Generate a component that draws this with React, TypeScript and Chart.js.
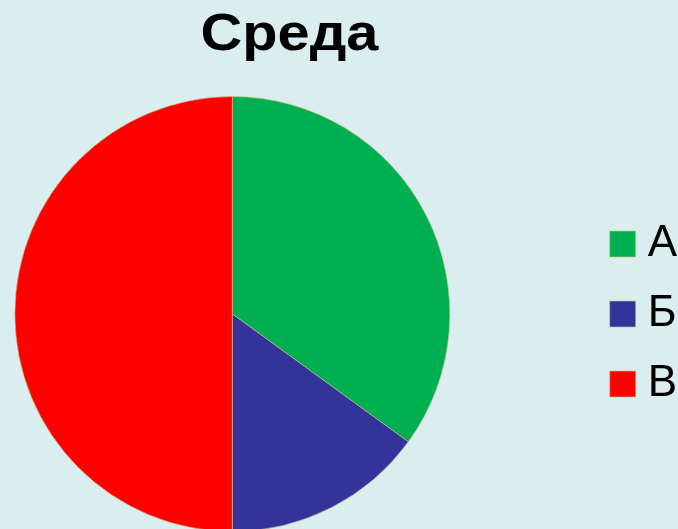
import { useEffect, useRef } from "react";
import { Chart, registerables } from "chart.js";

Chart.register(...registerables);

const chartTitle = "Среда";
const categories = ["А", "Б", "В"];
const values = [35, 15, 50];
const sliceColors = ["#00b050", "#333399", "#ff0000"];

const BG = "#daedef";
const SHIFT = 129; // canvas is wider and shifted left so the pie sits left of centre

const titlePlugin = {
  id: "customTitle",
  afterDraw(chart: any) {
    const ctx = chart.ctx;
    ctx.save();
    ctx.font = "bold 52px 'Liberation Sans', Arial, sans-serif";
    ctx.fillStyle = "#000000";
    ctx.textAlign = "center";
    ctx.textBaseline = "alphabetic";
    ctx.translate(289.5 + SHIFT, 50);
    ctx.scale(1.11, 1);
    ctx.fillText(chartTitle, 0, 0);
    ctx.restore();
  },
};

export default function App() {
  const canvasRef = useRef<HTMLCanvasElement | null>(null);

  useEffect(() => {
    document.body.style.margin = "0";
    document.body.style.background = BG;
    const canvas = canvasRef.current;
    if (!canvas) return;
    const chart = new Chart(canvas, {
      type: "pie",
      data: {
        labels: categories,
        datasets: [
          {
            data: values,
            backgroundColor: sliceColors,
            borderColor: "rgba(200,195,140,0.65)",
            borderWidth: 1,
            radius: 217.5,
          } as any,
        ],
      },
      options: {
        animation: false,
        responsive: false,
        maintainAspectRatio: false,
        events: [],
        layout: {
          padding: { top: 99, bottom: 0, left: 0, right: 0 },
        },
        plugins: {
          title: { display: false },
          tooltip: { enabled: false },
          legend: {
            display: true,
            position: "right",
            maxWidth: 84.3,
            labels: {
              usePointStyle: true,
              pointStyle: "rect",
              boxWidth: 6,
              boxHeight: 26,
              padding: 26,
              color: "#000000",
              font: { family: "'Liberation Sans', Arial, sans-serif", size: 44 },
            },
          },
        },
      } as any,
      plugins: [titlePlugin],
    });
    return () => chart.destroy();
  }, []);

  return (
    <div style={{ width: 678, height: 529, overflow: "hidden", background: BG, position: "relative" }}>
      <canvas
        ref={canvasRef}
        width={678 + SHIFT}
        height={529}
        style={{ display: "block", position: "absolute", left: -SHIFT, top: 0 }}
      />
    </div>
  );
}
